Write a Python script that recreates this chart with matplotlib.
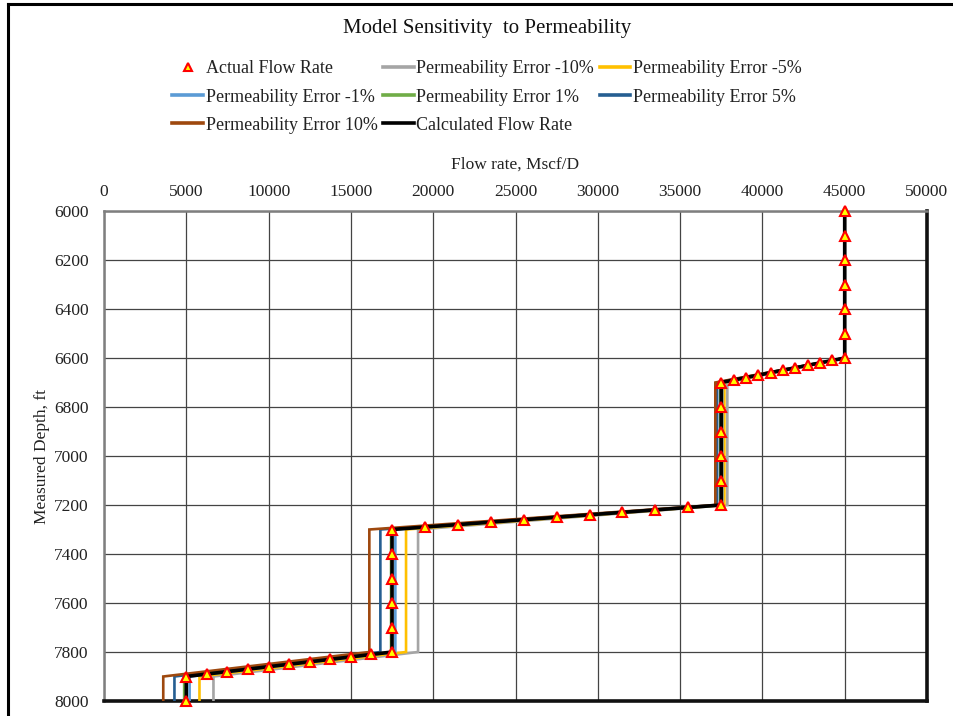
import matplotlib
matplotlib.use("Agg")
import matplotlib.pyplot as plt
from matplotlib.lines import Line2D

plt.rcParams['font.family'] = ['Liberation Serif', 'DejaVu Serif']

# Measured flow rate along the well
actual_depth = [6000, 6100, 6200, 6300, 6400, 6500,
                6600, 6610, 6620, 6630, 6640, 6650, 6660, 6670, 6680, 6690, 6700,
                6800, 6900, 7000, 7100,
                7200, 7210, 7220, 7230, 7240, 7250, 7260, 7270, 7280, 7290, 7300,
                7400, 7500, 7600, 7700,
                7800, 7810, 7820, 7830, 7840, 7850, 7860, 7870, 7880, 7890, 7900,
                8000]
actual_rate = [45000, 45000, 45000, 45000, 45000, 45000,
               45000, 44250, 43500, 42750, 42000, 41250, 40500, 39750, 39000, 38250, 37500,
               37500, 37500, 37500, 37500,
               37500, 35500, 33500, 31500, 29500, 27500, 25500, 23500, 21500, 19500, 17500,
               17500, 17500, 17500, 17500,
               17500, 16250, 15000, 13750, 12500, 11250, 10000, 8750, 7500, 6250, 5000,
               5000]

# Model profiles (breakpoint depths shared by all cases)
model_depth = [6000, 6600, 6700, 7200, 7300, 7800, 7900, 8000]
calc_rate = [45000, 45000, 37500, 37500, 17500, 17500, 5000, 5000]
perm_m10 = [45000, 45000, 37870, 37870, 19080, 19080, 6650, 6650]
perm_m5 = [45000, 45000, 37690, 37690, 18350, 18350, 5800, 5800]
perm_m1 = [45000, 45000, 37560, 37560, 17700, 17700, 5200, 5200]
perm_p1 = [45000, 45000, 37440, 37440, 17440, 17440, 4870, 4870]
perm_p5 = [45000, 45000, 37250, 37250, 16790, 16790, 4280, 4280]
perm_p10 = [45000, 45000, 37140, 37140, 16120, 16120, 3600, 3600]

x_ticks = list(range(0, 50001, 5000))
y_ticks = list(range(6000, 8001, 200))

W, H = 954, 716
fig = plt.figure(figsize=(W / 100, H / 100), dpi=100)
ax = fig.add_axes([104 / W, 1 - 701 / H, (927 - 104) / W, (701 - 211) / H])

series = [
    (perm_m10, '#A5A5A5', 'Permeability Error -10%'),
    (perm_m5, '#FFC000', 'Permeability Error -5%'),
    (perm_m1, '#5B9BD5', 'Permeability Error -1%'),
    (perm_p1, '#70AD47', 'Permeability Error 1%'),
    (perm_p5, '#255E91', 'Permeability Error 5%'),
    (perm_p10, '#9E480E', 'Permeability Error 10%'),
]
lines = {}
for rate, color, label in series:
    ln, = ax.plot(rate, model_depth, color=color, lw=1.9, label=label,
                  solid_joinstyle='miter', zorder=3)
    lines[label] = ln
calc_ln, = ax.plot(calc_rate, model_depth, color='black', lw=2.6,
                   label='Calculated Flow Rate', zorder=4)
act_ln, = ax.plot(actual_rate, actual_depth, ls='none', marker='^', ms=7,
                  mfc='#FFFF00', mec='#FF0000', mew=1.5, label='Actual Flow Rate',
                  zorder=5, clip_on=False)

ax.set_xlim(0, 50000)
ax.set_ylim(8000, 6000)
ax.set_xticks(x_ticks)
ax.set_yticks(y_ticks)
ax.xaxis.tick_top()
ax.xaxis.set_label_position('top')
ax.tick_params(axis='both', length=0, labelsize=12.5, colors='#222222')
ax.tick_params(axis='x', pad=8)
ax.tick_params(axis='y', pad=11)
ax.grid(True, color='#444444', lw=0.9)
ax.set_axisbelow(True)

ax.set_xlabel('Flow rate, Mscf/D', fontsize=12.5, labelpad=11, color='#222222')
ax.set_ylabel('Measured Depth, ft', fontsize=12.5, labelpad=3, color='#222222')

for side in ('left', 'top'):
    ax.spines[side].set_color('#7F7F7F')
    ax.spines[side].set_linewidth(1.8)
for side in ('right', 'bottom'):
    ax.spines[side].set_color('#111111')
    ax.spines[side].set_linewidth(2.6)

fig.text(487 / W, 1 - 29 / H, 'Model Sensitivity  to Permeability', fontsize=15,
         ha='center', va='center', color='#111111')

# Legend ordered so that column-first filling reads row by row
order = [act_ln, lines['Permeability Error -1%'], lines['Permeability Error 10%'],
         lines['Permeability Error -10%'], lines['Permeability Error 1%'], calc_ln,
         lines['Permeability Error -5%'], lines['Permeability Error 5%']]
leg_handles = []
for h in order:
    if h is act_ln:
        leg_handles.append(Line2D([], [], ls='none', marker='^', ms=6, mfc='#FFFF00',
                                  mec='#FF0000', mew=1.5))
    else:
        leg_handles.append(Line2D([], [], color=h.get_color(), lw=2.6))
leg = fig.legend(leg_handles, [h.get_label() for h in order], ncol=3,
                 loc='center', bbox_to_anchor=(487 / W, 1 - 97 / H),
                 frameon=False, fontsize=13, handlelength=1.7, handletextpad=0.15,
                 columnspacing=0.3, labelspacing=0.62, borderpad=0)
for t in leg.get_texts():
    t.set_color('#222222')

# Chart frame
fig.add_artist(Line2D([8 / W, 8 / W], [0, 1 - 4 / H], color='black', lw=2.2,
                      transform=fig.transFigure))
fig.add_artist(Line2D([8 / W, 1], [1 - 4 / H, 1 - 4 / H], color='black', lw=2.2,
                      transform=fig.transFigure))

fig.savefig('out.png', dpi=100)
